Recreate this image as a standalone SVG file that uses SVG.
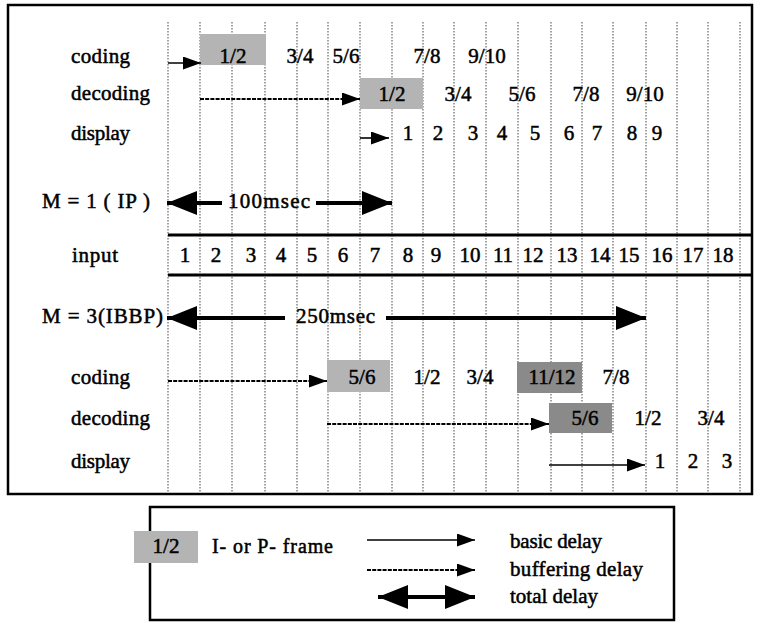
<svg xmlns="http://www.w3.org/2000/svg" width="764" height="624" viewBox="0 0 764 624" font-family="'Liberation Serif', 'DejaVu Serif', 'Times New Roman', serif">
<style>
text{font-family:'Liberation Serif','DejaVu Serif','Times New Roman',serif;font-size:21px;fill:#000;stroke:#000;stroke-width:0.5}
.n{text-anchor:middle}
.grid line{stroke:#666;stroke-width:1.2;stroke-dasharray:1.5 1.5}
.basic{stroke:#000;stroke-width:1.6;fill:none;marker-end:url(#ah)}
.buf{stroke:#000;stroke-width:2;stroke-dasharray:4 1.2;fill:none;marker-end:url(#ah)}
.tot{stroke:#000;stroke-width:4;fill:none;marker-end:url(#big)}
.lt{fill:#b4b4b4}
.dk{fill:#8a8a8a}
.frame{fill:none;stroke:#000;stroke-width:2.5}
</style>
<defs>
<marker id="ah" markerUnits="userSpaceOnUse" markerWidth="18" markerHeight="13" refX="18" refY="6.5" orient="auto"><path d="M0,0 L18,6.5 L0,13 z" fill="#000"/></marker>
<marker id="big" markerUnits="userSpaceOnUse" markerWidth="30" markerHeight="24" refX="30" refY="12" orient="auto-start-reverse"><path d="M0,0 L30,12 L0,24 z" fill="#000"/></marker>
</defs>
<rect width="764" height="624" fill="#fff"/>
<g id="main-frame"><rect class="frame" x="8" y="5" width="744" height="489"/></g>
<g id="grid" class="grid">
<line x1="168" y1="22" x2="168" y2="493"/><line x1="200" y1="22" x2="200" y2="493"/><line x1="232" y1="22" x2="232" y2="493"/><line x1="265" y1="22" x2="265" y2="493"/><line x1="297" y1="22" x2="297" y2="493"/><line x1="328" y1="22" x2="328" y2="493"/><line x1="360" y1="22" x2="360" y2="493"/><line x1="392" y1="22" x2="392" y2="493"/><line x1="423" y1="22" x2="423" y2="493"/><line x1="454" y1="22" x2="454" y2="493"/><line x1="486" y1="22" x2="486" y2="493"/><line x1="518" y1="22" x2="518" y2="493"/><line x1="551" y1="22" x2="551" y2="493"/><line x1="582" y1="22" x2="582" y2="493"/><line x1="613" y1="22" x2="613" y2="493"/><line x1="646" y1="22" x2="646" y2="493"/><line x1="677" y1="22" x2="677" y2="493"/><line x1="708" y1="22" x2="708" y2="493"/><line x1="740" y1="22" x2="740" y2="493"/>
</g>
<g id="frames">
<rect class="lt" x="200" y="34" width="66" height="31"/>
<rect class="lt" x="360" y="78" width="63" height="31"/>
<rect class="lt" x="327" y="360" width="63" height="32"/>
<rect class="dk" x="517" y="362" width="65" height="31"/>
<rect class="dk" x="549" y="403" width="63" height="30"/>
</g>
<g id="input-row">
<line x1="168" y1="235" x2="752" y2="235" stroke="#000" stroke-width="3"/>
<line x1="168" y1="275" x2="752" y2="275" stroke="#000" stroke-width="3"/>
</g>
<g id="labels">
<text x="71" y="63" textLength="59">coding</text>
<text x="71" y="100" textLength="79">decoding</text>
<text x="71" y="140" textLength="59">display</text>
<text x="42" y="208" textLength="108">M = 1 ( IP )</text>
<text x="72" y="262" textLength="46">input</text>
<text x="42" y="323" textLength="121">M = 3(IBBP)</text>
<text x="71" y="384" textLength="59">coding</text>
<text x="71" y="425" textLength="79">decoding</text>
<text x="71" y="468" textLength="59">display</text>
<text x="228" y="208" textLength="82">100msec</text>
<text x="296" y="323" textLength="79">250msec</text>
</g>
<g id="m1-coding">
<text class="n" x="233" y="63">1/2</text><text class="n" x="300" y="63">3/4</text><text class="n" x="346" y="63">5/6</text><text class="n" x="427" y="63">7/8</text><text class="n" x="487" y="63">9/10</text>
</g>
<g id="m1-decoding">
<text class="n" x="392" y="101">1/2</text><text class="n" x="458" y="101">3/4</text><text class="n" x="522" y="101">5/6</text><text class="n" x="586" y="101">7/8</text><text class="n" x="645" y="101">9/10</text>
</g>
<g id="m1-display">
<text class="n" x="408" y="140">1</text><text class="n" x="438" y="140">2</text><text class="n" x="473" y="140">3</text><text class="n" x="502" y="140">4</text><text class="n" x="535" y="140">5</text><text class="n" x="569" y="140">6</text><text class="n" x="597" y="140">7</text><text class="n" x="632" y="140">8</text><text class="n" x="657" y="140">9</text>
</g>
<g id="input-numbers">
<text class="n" x="185" y="262">1</text><text class="n" x="216" y="262">2</text><text class="n" x="251" y="262">3</text><text class="n" x="281" y="262">4</text><text class="n" x="312" y="262">5</text><text class="n" x="343" y="262">6</text><text class="n" x="375" y="262">7</text><text class="n" x="408" y="262">8</text><text class="n" x="436" y="262">9</text><text class="n" x="470" y="262">10</text><text class="n" x="503" y="262">11</text><text class="n" x="533" y="262">12</text><text class="n" x="567" y="262">13</text><text class="n" x="600" y="262">14</text><text class="n" x="629" y="262">15</text><text class="n" x="662" y="262">16</text><text class="n" x="693" y="262">17</text><text class="n" x="723" y="262">18</text>
</g>
<g id="m3-coding">
<text class="n" x="362" y="384">5/6</text><text class="n" x="427" y="384">1/2</text><text class="n" x="480" y="384">3/4</text><text class="n" x="552" y="384">11/12</text><text class="n" x="616" y="384">7/8</text>
</g>
<g id="m3-decoding">
<text class="n" x="585" y="425">5/6</text><text class="n" x="648" y="425">1/2</text><text class="n" x="711" y="425">3/4</text>
</g>
<g id="m3-display">
<text class="n" x="660" y="468">1</text><text class="n" x="693" y="468">2</text><text class="n" x="727" y="468">3</text>
</g>
<g id="connectors">
<path class="basic" d="M168,63 H201"/>
<path class="buf" d="M200,99 H360"/>
<path class="basic" d="M360,138 H389"/>
<path class="tot" d="M222,203 H167"/>
<path class="tot" d="M316,203 H392"/>
<path class="tot" d="M285,318 H167"/>
<path class="tot" d="M386,318 H646"/>
<path class="buf" d="M168,381 H327"/>
<path class="buf" d="M327,424 H549"/>
<path class="basic" d="M549,465 H645"/>
</g>
<g id="legend">
<rect class="frame" x="150" y="507" width="524" height="113"/>
<rect class="lt" x="134" y="531" width="64" height="32"/>
<text class="n" x="166" y="553">1/2</text>
<text x="212" y="553" style="font-size:20px" textLength="121">I- or P- frame</text>
<path class="basic" d="M367,540 H475"/>
<path class="buf" d="M367,570 H475"/>
<path class="tot" d="M400,597 H378"/>
<path class="tot" d="M440,597 H475"/>
<line x1="398" y1="597" x2="442" y2="597" stroke="#000" stroke-width="4"/>
<text x="510" y="548" style="font-size:21px" textLength="92">basic delay</text>
<text x="510" y="576" style="font-size:21px" textLength="133">buffering delay</text>
<text x="510" y="603" style="font-size:21px" textLength="88">total delay</text>
</g>
</svg>
